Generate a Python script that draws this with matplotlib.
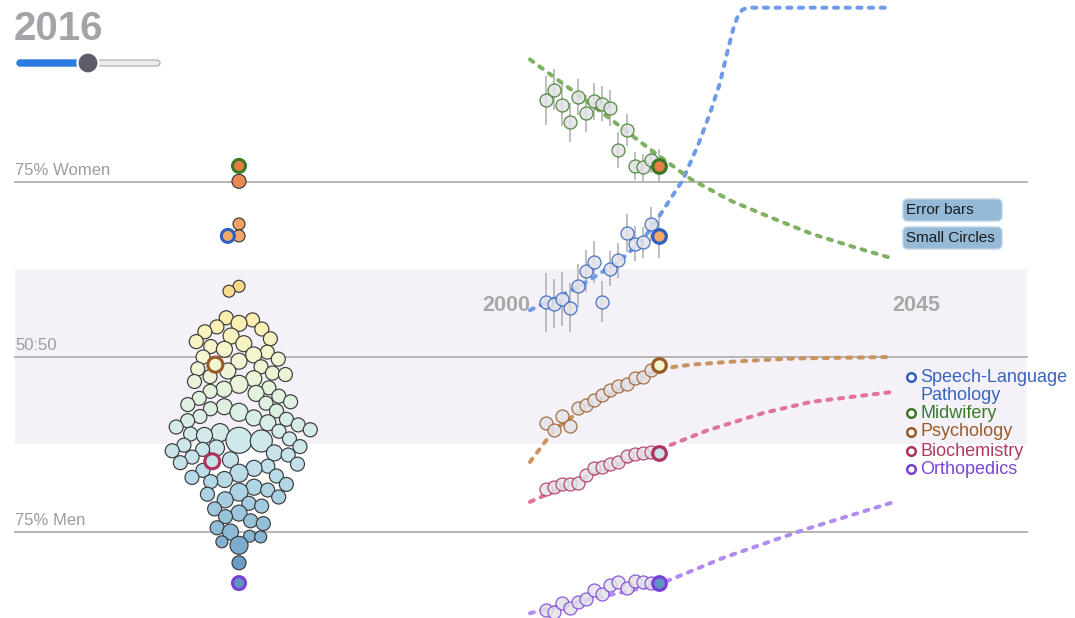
import numpy as np
import matplotlib.pyplot as plt
from matplotlib.colors import LinearSegmentedColormap
from matplotlib.patches import FancyBboxPatch, Circle, Rectangle

plt.rcParams['font.family'] = ['Liberation Sans', 'DejaVu Sans']

W, H = 1075, 618
PT = 0.72            # points per pixel at 100 dpi
PX_PER_PCT = 7.0     # vertical pixels per percentage point
Y_LO = 50 - (H - 357) / PX_PER_PCT
Y_HI = 50 + 357 / PX_PER_PCT

# ---- 2016 snapshot: share of women per field, circle radius in px ----
field_share = [
    75.1, 69.0, 67.3, 60.1, 59.4,
    55.6, 55.3, 54.8, 54.3, 54.0,
    53.6, 53.0, 52.6, 52.2, 51.9,
    51.5, 51.1, 50.7, 50.3, 50.0, 49.7,
    49.4, 48.6, 48.3, 48.0, 47.7, 47.5,
    47.2, 46.9, 46.5, 46.1, 45.6, 45.4,
    45.1, 44.8, 44.4, 44.1, 43.6, 43.4, 43.2,
    42.9, 42.6, 42.3, 42.1, 41.5, 41.3, 41.1,
    40.9, 40.6, 40.3, 40.0, 39.6, 39.4, 39.2, 39.0,
    38.8, 38.1, 38.3, 38.0, 37.4, 37.2, 37.0, 36.8,
    36.6, 36.3, 36.0, 35.7, 35.3, 34.9, 34.7,
    34.4, 34.1, 33.8, 33.4, 33.0, 32.8, 32.5,
    32.2, 31.8, 31.4, 31.0, 30.7, 30.4,
    30.0, 29.6, 29.1, 28.7, 28.3,
    27.7, 27.2, 26.6, 26.2,
    25.6, 25.0, 24.4, 24.3, 23.6, 23.1, 20.6,
]
field_radius = [
    7, 6, 6, 6, 6,
    7, 7, 8, 7, 7,
    7, 8, 7, 7, 8,
    7, 8, 7, 8, 7, 7,
    8, 7, 7, 8, 7, 7,
    7, 8, 7, 9, 7, 8,
    7, 8, 7, 7, 7, 7, 7,
    8, 7, 7, 9, 7, 8, 7,
    7, 8, 7, 7, 7, 7, 9, 7,
    8, 13, 7, 11, 7, 7, 8, 7,
    7, 8, 7, 7, 8, 7, 7,
    7, 8, 7, 9, 7, 7, 8,
    7, 7, 8, 7, 9, 7,
    7, 8, 7, 7, 7,
    8, 7, 7, 7,
    7, 8, 6, 6, 6, 9, 7,
]

# highlighted fields
hl_names = ['Speech-Language', 'Midwifery', 'Psychology', 'Biochemistry', 'Orthopedics']
hl_share_2016 = [67.3, 77.3, 48.9, 35.1, 17.7]
hl_radius = [6, 6, 7, 7, 6]
hl_ring = ['#2f5fc0', '#3b7a22', '#9a5a24', '#b0305e', '#7a3fd6']
hl_dash = ['#6f9cea', '#80b163', '#c8935e', '#e0739c', '#b08cf0']
hl_text = ['#3a63c0', '#3c7a28', '#9a5a2a', '#b03a62', '#7a44d6']

# ---- yearly series ----
years = list(range(2002, 2017))
slp_share = [57.8, 57.6, 58.3, 57.0, 60.2, 62.3, 63.5, 57.9, 62.6, 63.8, 67.7, 66.2, 66.4, 69.0, 67.3]
slp_err = [4.2, 3.5, 3.9, 3.5, 3.1, 3.0, 3.0, 2.9, 2.5, 2.5, 2.7, 2.5, 2.2, 2.4, 3.2]
mid_share = [86.7, 88.2, 86.0, 83.5, 87.1, 84.8, 86.5, 86.2, 85.6, 79.6, 82.4, 77.3, 77.1, 78.1, 77.3]
mid_err = [3.5, 2.9, 3.0, 2.8, 2.6, 2.6, 2.7, 2.5, 2.6, 2.6, 2.3, 2.0, 1.9, 1.8, 2.4]
psy_share = [40.6, 39.5, 41.6, 40.1, 42.7, 43.1, 43.9, 44.6, 45.3, 45.8, 46.2, 47.0, 47.2, 48.1, 48.9]
bio_share = [31.1, 31.5, 31.9, 31.8, 32.0, 33.1, 34.1, 34.3, 34.7, 35.0, 35.8, 36.2, 36.3, 36.5, 36.3]
ort_share = [13.9, 13.6, 14.9, 14.1, 15.0, 15.5, 16.7, 16.1, 17.4, 17.9, 17.0, 18.0, 17.8, 17.7, 17.7]

# ---- fitted projections 2000-2045 ----
slp_proj_years = [2000, 2006, 2011, 2014, 2016, 2019, 2021, 2022.4, 2023.6, 2024.6, 2025.3, 2025.9, 2026.4, 2027, 2045]
slp_proj = [56.7, 60.0, 63.6, 66.7, 70.0, 75.3, 80.6, 84.9, 89.1, 93.9, 97.0, 98.9, 99.6, 99.9, 99.9]
mid_proj_years = [2000, 2005, 2010, 2015, 2020, 2025, 2030, 2035, 2040, 2045]
mid_proj = [92.5, 88.3, 84.0, 79.6, 75.4, 72.3, 69.9, 67.6, 65.8, 64.1]
psy_proj_years = [2000, 2003, 2007, 2012, 2016, 2020, 2026, 2033, 2045]
psy_proj = [35.0, 39.6, 42.9, 45.9, 48.3, 48.9, 49.4, 49.8, 50.0]
bio_proj_years = [2000, 2007, 2015, 2022, 2029, 2035, 2045]
bio_proj = [29.3, 32.9, 36.3, 39.5, 42.0, 43.6, 45.0]
ort_proj_years = [2000, 2007, 2016, 2024, 2034, 2045]
ort_proj = [13.4, 15.3, 17.5, 21.3, 25.3, 29.2]

series = [
    (slp_share, slp_err, slp_proj_years, slp_proj),
    (mid_share, mid_err, mid_proj_years, mid_proj),
    (psy_share, None, psy_proj_years, psy_proj),
    (bio_share, None, bio_proj_years, bio_proj),
    (ort_share, None, ort_proj_years, ort_proj),
]

# fill colour by share of women (stops given in %)
SHARE_MIN, SHARE_MAX = 17, 78
color_stops = [
    (17, '#5f93c2'), (21, '#6e9ec8'), (25, '#8dbbd7'), (30, '#a9d0e2'),
    (35, '#c4e2ea'), (40, '#d6ecea'), (45, '#e4f2dc'), (50, '#f4f6d0'),
    (55, '#fcefb3'), (60, '#f9d88a'), (67, '#f3aa68'), (75, '#ea8a52'), (78, '#e47a44'),
]
share_cmap = LinearSegmentedColormap.from_list(
    'share', [((v - SHARE_MIN) / (SHARE_MAX - SHARE_MIN), c) for v, c in color_stops])


def share_color(v):
    return share_cmap((v - SHARE_MIN) / (SHARE_MAX - SHARE_MIN))


def beeswarm(y, r, cx, squeeze=0.93):
    # greedy placement: big circles first, each as close to cx as it fits;
    # squeeze < 1 lets neighbours overlap a little, like a relaxed force layout
    xs = np.full(len(y), np.nan)
    placed = []
    for i in np.lexsort((-y, -r)):
        cands = [cx]
        for j in placed:
            d = (r[i] + r[j]) * squeeze
            dy = y[i] - y[j]
            if abs(dy) < d:
                dx = np.sqrt(d * d - dy * dy)
                cands += [xs[j] - dx, xs[j] + dx]
        cands.sort(key=lambda c: abs(c - cx))
        for c in cands:
            if all((c - xs[j]) ** 2 + (y[i] - y[j]) ** 2 >= ((r[i] + r[j]) * squeeze) ** 2 - 1e-6
                   for j in placed):
                xs[i] = c
                break
        placed.append(i)
    return xs


def px_area(r):
    return (2 * r * PT) ** 2


fig = plt.figure(figsize=(W / 100, H / 100), dpi=100)

# main axes: x in pixels, y in % women
ax = fig.add_axes([0, 0, 1, 1])
ax.set_xlim(0, W)
ax.set_ylim(Y_LO, Y_HI)
ax.axis('off')

ax.add_patch(Rectangle((15, 37.5), 1012, 25, facecolor='#f4f2f8', edgecolor='none', zorder=0))
for level, label in [(75, '75% Women'), (50, '50:50'), (25, '75% Men')]:
    ax.plot([15, 1027], [level, level], color='#b0b0b0', lw=1.3, zorder=1)
    ax.text(15, level + 0.95, label, fontsize=12, color='#9c9c9c', ha='left', va='baseline')

# beeswarm of all fields
all_share = np.array(field_share + hl_share_2016, dtype=float)
all_r = np.array(field_radius + hl_radius, dtype=float)
n_plain = len(field_share)
xs = beeswarm(all_share * PX_PER_PCT, all_r, 239)
ax.scatter(xs[:n_plain], all_share[:n_plain], s=px_area(all_r[:n_plain]),
           c=[share_color(v) for v in all_share[:n_plain]],
           edgecolors='#3a3a3a', linewidths=0.85, zorder=3)
ax.scatter(xs[n_plain:], all_share[n_plain:], s=px_area(all_r[n_plain:] + 0.5),
           c=[share_color(v) for v in all_share[n_plain:]],
           edgecolors=hl_ring, linewidths=2.2, zorder=4)

# time series axes: 2000 at x=530px, 2045 at x=892px
ax2 = fig.add_axes([530 / W, 0, (892 - 530) / W, 1])
ax2.set_xlim(2000, 2045)
ax2.set_ylim(Y_LO, Y_HI)
ax2.axis('off')
ax2.patch.set_alpha(0)

ax2.text(2000, 57.4, '2000', fontsize=15.5, fontweight='bold', color='#a8a8a8', ha='right', va='center')
ax2.text(2045, 57.4, '2045', fontsize=15.5, fontweight='bold', color='#a8a8a8', ha='left', va='center')

for k, (share, err, p_years, p_share) in enumerate(series):
    if err is not None:
        ax2.errorbar(years, share, yerr=err, fmt='none', ecolor='#adadad', elinewidth=1.1,
                     capsize=0, zorder=2)
    ax2.plot(p_years, p_share, color=hl_dash[k], lw=2.9, dashes=(1.0, 1.9),
             dash_capstyle='round', zorder=3, clip_on=False)
    ax2.scatter(years[:-1], share[:-1], s=px_area(6.5), facecolor='#e2e2e8', alpha=0.85,
                edgecolors=hl_ring[k], linewidths=0.9, zorder=4, clip_on=False)
    ax2.scatter(years[-1:], share[-1:], s=px_area(6.8), facecolor=share_color(share[-1]),
                edgecolors=hl_ring[k], linewidths=2.3, zorder=5, clip_on=False)

# overlay in screen pixels for year display, slider, buttons and legend
ui = fig.add_axes([0, 0, 1, 1])
ui.set_xlim(0, W)
ui.set_ylim(H, 0)
ui.axis('off')
ui.patch.set_alpha(0)

ui.text(14, 40, '2016', fontsize=29, fontweight='bold', color='#a3a3a8', ha='left', va='baseline')
ui.add_patch(FancyBboxPatch((17, 60), 143, 6, boxstyle='round,pad=0,rounding_size=3',
                            facecolor='#ececee', edgecolor='#a8a8ae', lw=0.8))
ui.add_patch(FancyBboxPatch((17, 60), 71, 6, boxstyle='round,pad=0,rounding_size=3',
                            facecolor='#2b7be4', edgecolor='#2b7be4', lw=0.8))
ui.add_patch(Circle((88, 63), 10.5, facecolor='#5c5d69', edgecolor='white', lw=1.6, zorder=5))

for top, label in [(199, 'Error bars'), (227, 'Small Circles')]:
    ui.add_patch(FancyBboxPatch((903, top), 99, 22, boxstyle='round,pad=0,rounding_size=5',
                                facecolor='#95bad8', edgecolor='#bcd2e4', lw=1))
    ui.text(906, top + 11.5, label, fontsize=11, color='#1a1a1a', ha='left', va='center')

legend_y = [377, 413, 432, 451, 469]
for k, name in enumerate(hl_names):
    ui.scatter([911], [legend_y[k]], s=px_area(4.3), facecolor='white',
               edgecolors=hl_ring[k], linewidths=1.8, zorder=5)
    ui.text(920, legend_y[k], name, fontsize=13, color=hl_text[k], ha='left', va='center')
ui.text(920, 395, 'Pathology', fontsize=13, color=hl_text[0], ha='left', va='center')

fig.savefig('out.png', dpi=100)
